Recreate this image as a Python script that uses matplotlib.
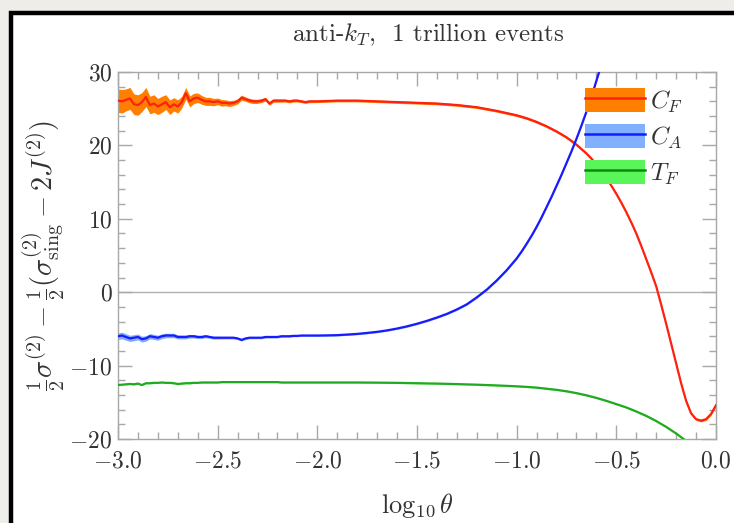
import numpy as np
import matplotlib
matplotlib.use("Agg")
import matplotlib.pyplot as plt
from matplotlib.patches import Rectangle, Patch
from matplotlib.lines import Line2D
from matplotlib.legend_handler import HandlerTuple

plt.rcParams['mathtext.fontset'] = 'cm'
plt.rcParams['font.family'] = ['cmr10', 'DejaVu Serif']
plt.rcParams['axes.formatter.use_mathtext'] = True

# ---------------- data ----------------
# noisy low-theta region (log10 theta from -3.0 to -2.04)
x_noisy = [-3.00, -2.98, -2.96, -2.94, -2.92, -2.90, -2.88, -2.86, -2.84, -2.82,
           -2.80, -2.78, -2.76, -2.74, -2.72, -2.70, -2.68, -2.66, -2.64, -2.62,
           -2.60, -2.58, -2.56, -2.54, -2.52, -2.50, -2.48, -2.46, -2.44, -2.42,
           -2.40, -2.38, -2.36, -2.34, -2.32, -2.30, -2.28, -2.26, -2.24, -2.22,
           -2.20, -2.18, -2.16, -2.14, -2.12, -2.10, -2.08, -2.06, -2.04]

cf_noisy = [26.1, 26.0, 26.2, 26.4, 25.6, 25.5, 25.9, 26.6, 25.5, 25.7,
            25.3, 25.6, 25.9, 25.2, 25.6, 25.3, 25.9, 27.1, 26.0, 26.4,
            26.5, 26.2, 26.0, 26.0, 25.9, 26.0, 25.8, 25.8, 25.7, 25.8,
            26.0, 26.5, 26.3, 26.1, 26.0, 26.0, 26.1, 26.3, 25.7, 26.1,
            26.1, 26.1, 26.1, 26.0, 26.1, 26.1, 26.0, 25.9, 26.0]
cf_noisy_err = [1.6, 1.6, 1.5, 1.5, 1.4, 1.4, 1.3, 1.3, 1.2, 1.2,
                1.1, 1.1, 1.0, 1.0, 0.9, 0.9, 0.8, 0.8, 0.75, 0.7,
                0.65, 0.6, 0.55, 0.55, 0.5, 0.45, 0.45, 0.4, 0.4, 0.35,
                0.35, 0.35, 0.3, 0.3, 0.3, 0.28, 0.26, 0.25, 0.24, 0.23,
                0.22, 0.21, 0.2, 0.2, 0.2, 0.19, 0.18, 0.18, 0.18]

ca_noisy = [-6.0, -5.9, -6.1, -6.3, -6.2, -6.1, -6.4, -6.3, -6.0, -6.1,
            -6.2, -6.0, -5.9, -5.9, -5.9, -6.1, -6.1, -6.1, -6.0, -6.0,
            -6.1, -6.1, -6.0, -6.1, -6.2, -6.2, -6.2, -6.2, -6.2, -6.2,
            -6.3, -6.5, -6.3, -6.2, -6.2, -6.2, -6.2, -6.1, -6.1, -6.1,
            -6.1, -6.0, -6.0, -6.0, -5.95, -5.95, -5.9, -5.9, -5.9]
ca_noisy_err = [0.45, 0.45, 0.45, 0.42, 0.42, 0.4, 0.4, 0.38, 0.36, 0.35,
                0.34, 0.33, 0.32, 0.3, 0.3, 0.28, 0.27, 0.26, 0.25, 0.24,
                0.23, 0.22, 0.21, 0.2, 0.2, 0.19, 0.18, 0.18, 0.17, 0.17,
                0.16, 0.16, 0.15, 0.15, 0.15, 0.14, 0.14, 0.14, 0.13, 0.13,
                0.13, 0.12, 0.12, 0.12, 0.12, 0.12, 0.12, 0.12, 0.12]

tf_noisy = [-12.65, -12.6, -12.55, -12.5, -12.55, -12.45, -12.65, -12.4, -12.4, -12.35,
            -12.35, -12.3, -12.35, -12.35, -12.4, -12.5, -12.45, -12.4, -12.4, -12.35,
            -12.35, -12.3, -12.3, -12.3, -12.3, -12.3, -12.25, -12.25, -12.25, -12.25,
            -12.25, -12.25, -12.25, -12.25, -12.25, -12.25, -12.25, -12.25, -12.25, -12.25,
            -12.25, -12.3, -12.3, -12.3, -12.3, -12.3, -12.3, -12.3, -12.3]

# smooth region
x_cf = [-2.0, -1.95, -1.9, -1.85, -1.8, -1.75, -1.7, -1.65, -1.6, -1.55,
        -1.5, -1.45, -1.4, -1.35, -1.3, -1.25, -1.2, -1.15, -1.1, -1.05,
        -1.0, -0.975, -0.95, -0.925, -0.9, -0.875, -0.85, -0.825, -0.8, -0.775,
        -0.75, -0.725, -0.7, -0.675, -0.65, -0.625, -0.6, -0.575, -0.55, -0.525,
        -0.5, -0.475, -0.45, -0.425, -0.4, -0.375, -0.35, -0.325, -0.3, -0.275,
        -0.25, -0.225, -0.2, -0.175, -0.15, -0.125, -0.1, -0.075, -0.05, -0.025, 0.0]
cf_smooth = [26.0, 26.05, 26.1, 26.1, 26.1, 26.05, 26.0, 25.95, 25.9, 25.85,
             25.8, 25.75, 25.7, 25.6, 25.5, 25.35, 25.2, 24.95, 24.7, 24.4,
             24.1, 23.9, 23.7, 23.45, 23.2, 22.9, 22.6, 22.25, 21.9, 21.5,
             21.1, 20.6, 20.1, 19.5, 18.9, 18.2, 17.4, 16.5, 15.6, 14.5,
             13.4, 12.2, 10.9, 9.5, 8.0, 6.3, 4.5, 2.7, 0.8, -1.7,
             -4.3, -7.0, -9.7, -12.4, -14.8, -16.5, -17.3, -17.5, -17.3, -16.6, -15.4]

x_ca = [-2.0, -1.95, -1.9, -1.85, -1.8, -1.75, -1.7, -1.65, -1.6, -1.55,
        -1.5, -1.45, -1.4, -1.35, -1.3, -1.25, -1.2, -1.15, -1.1, -1.05,
        -1.0, -0.975, -0.95, -0.925, -0.9, -0.875, -0.85, -0.825, -0.8, -0.775,
        -0.75, -0.725, -0.7, -0.675, -0.65, -0.625, -0.6, -0.575, -0.55]
ca_smooth = [-5.9, -5.88, -5.85, -5.77, -5.68, -5.55, -5.4, -5.2, -4.95, -4.65,
             -4.3, -3.9, -3.45, -2.95, -2.35, -1.65, -0.7, 0.35, 1.6, 3.0,
             4.6, 5.55, 6.6, 7.7, 8.9, 10.2, 11.6, 13.0, 14.5, 16.0,
             17.6, 19.2, 20.9, 22.7, 24.6, 26.6, 28.8, 31.0, 33.3]

x_tf = [-2.0, -1.9, -1.8, -1.7, -1.6, -1.5, -1.4, -1.3, -1.2, -1.1,
        -1.0, -0.95, -0.9, -0.85, -0.8, -0.75, -0.7, -0.65, -0.6, -0.55,
        -0.5, -0.45, -0.4, -0.35, -0.3, -0.25, -0.2, -0.15, -0.1]
tf_smooth = [-12.3, -12.3, -12.3, -12.32, -12.35, -12.4, -12.45, -12.52, -12.6, -12.7,
             -12.82, -12.9, -13.0, -13.15, -13.3, -13.5, -13.75, -14.05, -14.4, -14.8,
             -15.25, -15.7, -16.25, -16.85, -17.55, -18.35, -19.25, -20.25, -21.4]

x_ticks = [-3.0, -2.5, -2.0, -1.5, -1.0, -0.5, 0.0]
x_ticklabels = [r'$-3.0$', r'$-2.5$', r'$-2.0$', r'$-1.5$', r'$-1.0$', r'$-0.5$', r'$0.0$']
y_ticks = [-20, -10, 0, 10, 20, 30]
y_ticklabels = [r'$-20$', r'$-10$', r'$0$', r'$10$', r'$20$', r'$30$']

labels = [r'$C_F$', r'$C_A$', r'$T_F$']

# ---------------- assemble series ----------------
cf_x = np.array(x_noisy + x_cf)
cf_y = np.array(cf_noisy + cf_smooth)
cf_e = np.array(cf_noisy_err + [0.17] * len(x_cf))

ca_x = np.array(x_noisy + x_ca)
ca_y = np.array(ca_noisy + ca_smooth)
ca_e = np.array(ca_noisy_err + [0.12] * len(x_ca))

tf_x = np.array(x_noisy + x_tf)
tf_y = np.array(tf_noisy + tf_smooth)
tf_e = np.array([0.1] * len(tf_x))

# ---------------- figure ----------------
W, H = 734, 523
fig = plt.figure(figsize=(W / 100, H / 100), dpi=100)
fig.patch.set_facecolor('#efedea')
frame = Rectangle((10.5 / W, -0.1), 1.2, 1.1 - 13 / H,
                  transform=fig.transFigure, facecolor='white',
                  edgecolor='black', linewidth=3.2, zorder=-10)
fig.patches.append(frame)

ax = fig.add_axes([118 / W, 1 - 439 / H, (716 - 118) / W, (439 - 72) / H])
ax.set_facecolor('white')

col_cf_band, col_cf_line = '#ff8000', '#ff2010'
col_ca_band, col_ca_line = '#80b0ff', '#1a1aff'
col_tf_band, col_tf_line = '#5af55a', '#1faa1f'

ax.axhline(0, color='#b0b0b0', lw=1.0, zorder=1)

ax.fill_between(cf_x, cf_y - cf_e, cf_y + cf_e, color=col_cf_band, lw=0, zorder=2)
ax.plot(cf_x, cf_y, color=col_cf_line, lw=1.6, zorder=3)
ax.fill_between(ca_x, ca_y - ca_e, ca_y + ca_e, color=col_ca_band, lw=0, zorder=2)
ax.plot(ca_x, ca_y, color=col_ca_line, lw=1.6, zorder=3)
ax.fill_between(tf_x, tf_y - tf_e, tf_y + tf_e, color=col_tf_band, lw=0, zorder=2, alpha=0.6)
ax.plot(tf_x, tf_y, color=col_tf_line, lw=1.6, zorder=3)

ax.set_xlim(-3.0, 0.0)
ax.set_ylim(-20, 30)
ax.set_xticks(x_ticks)
ax.set_xticklabels(x_ticklabels)
ax.set_yticks(y_ticks)
ax.set_yticklabels(y_ticklabels)
ax.set_xticks(np.arange(-3.0, 0.001, 0.1), minor=True)
ax.set_yticks(np.arange(-20, 30.1, 2), minor=True)

gray = '#a8a8a8'
for s in ax.spines.values():
    s.set_color(gray)
    s.set_linewidth(1.0)
ax.tick_params(which='both', direction='in', top=True, right=True, color=gray,
               labelsize=17, labelcolor='#333333', width=1.0)
ax.tick_params(which='major', length=10)
ax.tick_params(which='minor', length=5)
ax.tick_params(axis='x', which='major', pad=8)
ax.tick_params(axis='y', which='major', pad=4)

ax.set_xlabel(r'$\log_{10}\theta$', fontsize=19, color='#333333', labelpad=14)
ax.set_ylabel(r'$\frac{1}{2}\sigma^{(2)}-\frac{1}{2}(\sigma^{(2)}_{\rm sing}-2J^{(2)})$',
              fontsize=20.5, color='#333333', labelpad=2)
ax.set_title(r'anti-$k_T$,  1 trillion events', fontsize=18, color='#333333',
             pad=22, x=(428 - 118) / (716 - 118))

handles = [
    (Patch(facecolor=col_cf_band, edgecolor='none'), Line2D([], [], color=col_cf_line, lw=1.8)),
    (Patch(facecolor=col_ca_band, edgecolor='none'), Line2D([], [], color=col_ca_line, lw=1.8)),
    (Patch(facecolor=col_tf_band, edgecolor='none'), Line2D([], [], color='#118811', lw=1.8)),
]
leg = ax.legend(handles, labels, handler_map={tuple: HandlerTuple(ndivide=1, pad=0)},
                loc='upper left', bbox_to_anchor=((585 - 118) / (716 - 118), 1 - (88 - 72) / (439 - 72)),
                frameon=False, fontsize=18, handlelength=2.4, handleheight=1.12,
                labelspacing=0.36, handletextpad=0.2, borderaxespad=0, borderpad=0)
for t in leg.get_texts():
    t.set_color('#333333')

fig.savefig('out.png', dpi=100, facecolor=fig.get_facecolor())
